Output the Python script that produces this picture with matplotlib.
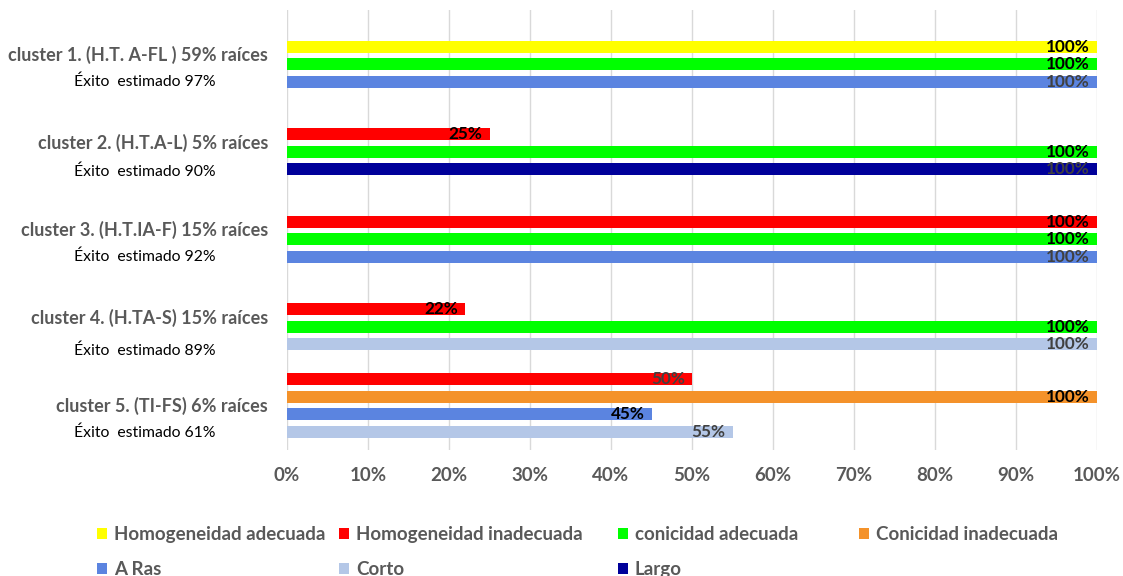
import matplotlib
matplotlib.use("Agg")
import matplotlib.pyplot as plt
from matplotlib.patches import Patch
from matplotlib.transforms import blended_transform_factory, offset_copy

plt.rcParams['font.family'] = ['Lato', 'DejaVu Sans']

# ---------------- data ----------------
cluster_titles = [
    "cluster 1. (H.T. A-FL ) 59% raíces",
    "cluster 2. (H.T.A-L) 5% raíces",
    "cluster 3. (H.T.IA-F) 15% raíces",
    "cluster 4. (H.TA-S) 15% raíces",
    "cluster 5. (TI-FS) 6% raíces",
]
cluster_success = [
    "Éxito  estimado 97%",
    "Éxito  estimado 90%",
    "Éxito  estimado 92%",
    "Éxito  estimado 89%",
    "Éxito  estimado 61%",
]
series_names = [
    "Homogeneidad adecuada",
    "Homogeneidad inadecuada",
    "conicidad adecuada",
    "Conicidad inadecuada",
    "A Ras",
    "Corto",
    "Largo",
]
homog_adecuada = [100, None, None, None, None]
homog_inadecuada = [None, 25, 100, 22, 50]
conic_adecuada = [100, 100, 100, 100, None]
conic_inadecuada = [None, None, None, None, 100]
a_ras = [100, None, 100, None, 45]
corto = [None, None, None, 100, 55]
largo = [None, 100, None, None, None]
series_values = [homog_adecuada, homog_inadecuada, conic_adecuada,
                 conic_inadecuada, a_ras, corto, largo]
x_ticks = [0, 10, 20, 30, 40, 50, 60, 70, 80, 90, 100]

# ---------------- styles / layout ----------------
series_colors = ["#FFFF00", "#FF0000", "#00FF00", "#F4922A",
                 "#5B84E0", "#B4C7E7", "#00009A"]
label_colors = ["#000000", "#000000", "#000000", "#000000",
                "#404040", "#404040", "#404040"]
label_color_override = {(1, 4): "#404040", (4, 4): "#000000"}
group_start = [0, 5, 10, 15, 19]
title_y = [0.46, 5.49, 10.46, 15.49, 20.5]
success_y = [2.0, 7.14, 12.0, 17.37, 22.06]
bar_h = 0.69

W, H = 1123, 576
fig = plt.figure(figsize=(W / 100, H / 100), dpi=100)
ax = fig.add_axes([287 / W, 1 - 450 / H, (1097 - 287) / W, (450 - 10) / H])

for ci in range(len(cluster_titles)):
    slot = group_start[ci]
    for si, vals in enumerate(series_values):
        v = vals[ci]
        if v is None:
            continue
        ax.barh(slot, v, height=bar_h, color=series_colors[si], zorder=2)
        col = label_color_override.get((si, ci), label_colors[si])
        tr = offset_copy(ax.transData, fig=fig, x=-7, y=0, units='dots')
        ax.text(v, slot, f"{v}%", transform=tr, ha='right', va='center',
                fontsize=12.3, fontweight='bold', color=col, zorder=3)
        slot += 1

ax.set_xlim(0, 100)
ax.set_ylim(23.03, -2.1)
ax.set_xticks(x_ticks)
ax.set_xticklabels([f"{t}%" for t in x_ticks])
ax.set_yticks([])
ax.tick_params(axis='x', length=0, pad=12, labelsize=13.5, labelcolor="#595959")
for lab in ax.get_xticklabels():
    lab.set_fontweight('bold')
ax.grid(axis='x', color="#D9D9D9", linewidth=1, zorder=0)
for s in ax.spines.values():
    s.set_visible(False)

# cluster labels
trb = blended_transform_factory(fig.transFigure, ax.transData)
for ci in range(len(cluster_titles)):
    ax.text(268 / W, title_y[ci], cluster_titles[ci], transform=trb,
            ha='right', va='center', fontsize=13, fontweight='bold',
            color="#595959")
    ax.text(145 / W, success_y[ci], cluster_success[ci], transform=trb,
            ha='center', va='center', fontsize=11.3, color="#000000")

# legend, one per column
handles = [Patch(facecolor=c, edgecolor='none') for c in series_colors]
columns = [[0, 4], [1, 5], [2, 6], [3]]
col_x = [97, 339, 618, 859]
for cols, xpx in zip(columns, col_x):
    leg = fig.legend([handles[i] for i in cols], [series_names[i] for i in cols],
                     loc='upper left', bbox_to_anchor=(xpx / W, 1 - 526 / H),
                     frameon=False, handlelength=0.55, handleheight=0.55,
                     handletextpad=0.35, labelspacing=0.95, borderpad=0,
                     borderaxespad=0,
                     prop={'size': 13.5, 'weight': 'bold'})
    for t in leg.get_texts():
        t.set_color("#595959")

fig.savefig("out.png", dpi=100)
